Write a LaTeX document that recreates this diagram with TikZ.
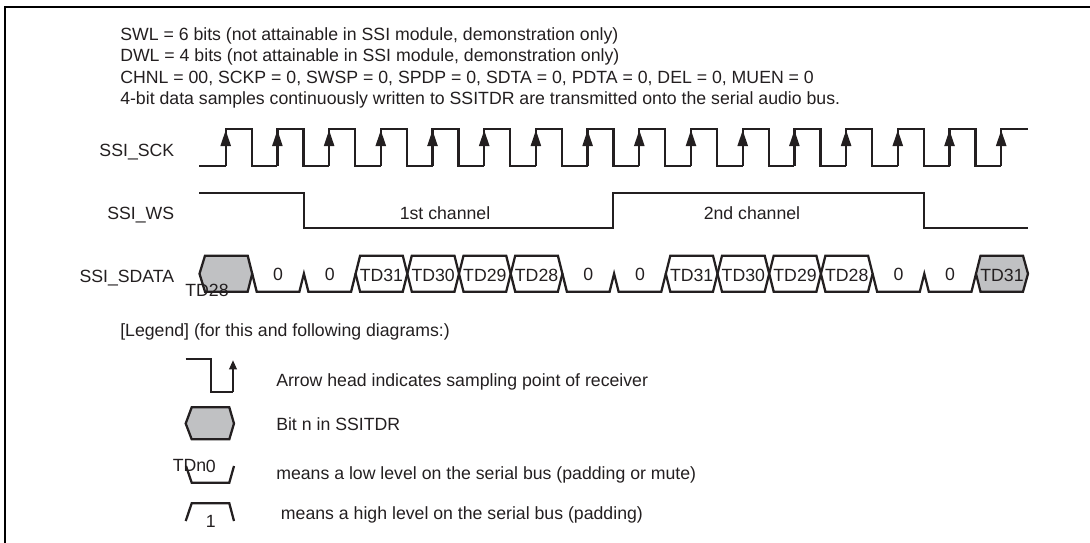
\documentclass[tikz,border=0pt]{standalone}
\usepackage{fontspec}
\setmainfont{Liberation Sans}
\usepackage{xcolor}
\usepackage{tikz}
\usetikzlibrary{arrows.meta, positioning}
\definecolor{mydark}{RGB}{35,31,32}
\definecolor{mygray}{RGB}{192,193,195}
\tikzset{
  txt/.style={font=\fontsize{13.27pt}{16pt}\selectfont, text=mydark, inner sep=0pt, anchor=base},
  lefttxt/.style={txt, anchor=base west},
  sigtxt/.style={txt, anchor=base east},
  sig/.style={line width=1.7pt, color=mydark, line join=miter},
  sigarrow/.style={line width=1.7pt, color=mydark, -{Triangle[length=12pt,width=7.5pt]}},
  legarrow/.style={line width=1.7pt, color=mydark, -{Triangle[length=7pt,width=5.5pt]}},
  frameline/.style={line width=1.7pt, color=black},
  grayhex/.style={sig, fill=mygray}
}
\begin{document}
\begin{tikzpicture}[x=0.75pt, y=-0.75pt]
  \useasboundingbox (0,0) rectangle (1090,543);
  \draw[frameline] (5,543) -- (5,6.8) -- (1090,6.8);
  % header
  \node[lefttxt] (swl)  at (120,40) {SWL = 6 bits (not attainable in SSI module, demonstration only)};
  \node[lefttxt] (dwl)  at (120,61.5) {DWL = 4 bits (not attainable in SSI module, demonstration only)};
  \node[lefttxt] (chnl) at (120,83) {CHNL = 00, SCKP = 0, SWSP = 0, SPDP = 0, SDTA = 0, PDTA = 0, DEL = 0, MUEN = 0};
  \node[lefttxt] (note) at (120,104) {4-bit data samples continuously written to SSITDR are transmitted onto the serial audio bus.};
  % signal names
  \node[sigtxt] (sck)   at (174.5,156.7) {SSI\_SCK};
  \node[sigtxt] (ws)    at (174.5,219.3) {SSI\_WS};
  \node[sigtxt] (sdata) at (174.5,282.3) {SSI\_SDATA};
  % clock
  \draw[sig] (199,165.7) -- (225.7,165.7);
  \foreach \k in {0,...,14} {
    \pgfmathsetmacro{\xr}{225.7+51.7*\k}
    \draw[sig] (\xr,165.7) -- (\xr,129) -- ++(26,0) -- (\xr+26,165.7) -- (\xr+51.7,165.7);
  }
  \draw[sig] (1001.2,165.7) -- (1001.2,129) -- (1028,129);
  \foreach \k in {0,...,15} {
    \pgfmathsetmacro{\xr}{225.7+51.7*\k}
    \draw[sigarrow] (\xr,165.7) -- (\xr,130);
  }
  % word select
  \draw[sig] (199,193) -- (303.7,193) -- (303.7,228) -- (613.3,228) -- (613.3,193)
    -- (924,193) -- (924,228) -- (1028,228);
  \node[txt] (first)  at (445,219.3) {1st channel};
  \node[txt] (second) at (752,219.3) {2nd channel};
  % serial data
  \foreach \k/\lab in {3/TD31,4/TD30,5/TD29,6/TD28,9/TD31,10/TD30,11/TD29,12/TD28} {
    \pgfmathsetmacro{\xb}{200.5+51.7*\k}
    \draw[sig] (\xb,273.7) -- ++(4.5,-18) -- ++(42.7,0) -- ++(4.5,18) -- ++(-4.5,18) -- ++(-42.7,0) -- cycle;
    \node[txt] (d\k) at (\xb+25.85,281) {\lab};
  }
  \foreach \k in {1,7,13} {
    \pgfmathsetmacro{\xb}{200.5+51.7*\k}
    \draw[sig] (\xb,273.7) -- ++(4.5,18) -- ++(42.7,0) -- ++(4.5,-18) -- ++(4.5,18) -- ++(42.7,0) -- ++(4.5,-18);
    \node[txt] (z\k) at (\xb+25.85,280.7) {0};
    \node[txt] (y\k) at (\xb+77.55,280.7) {0};
  }
  \draw[grayhex] (199.5,273.7) -- ++(5.5,-18) -- (247.7,255.7) -- (252.2,273.7) -- (247.7,291.7) -- (205,291.7) -- cycle;
  \node[txt] (td28) at (207,296.7) {TD28};
  \draw[grayhex] (976,273.7) -- ++(4.5,-18) -- (1023,255.7) -- (1028,273.7) -- (1023,291.7) -- (980.5,291.7) -- cycle;
  \node[txt] (td31) at (1002,281) {TD31};
  % legend
  \node[lefttxt] (legend) at (120,336.7) {[Legend] (for this and following diagrams:)};
  \draw[sig] (185.7,359.3) -- (210.7,359.3) -- (210.7,391.7) -- (233,391.7);
  \draw[legarrow] (233,392.4) -- (233,360);
  \node[lefttxt] (larrow) at (276,386) {Arrow head indicates sampling point of receiver};
  \draw[grayhex] (185.7,423.5) -- (191.7,407.3) -- (229.3,407.3) -- (234,423.5) -- (229.3,439.3) -- (191.7,439.3) -- cycle;
  \node[lefttxt] (lbit) at (276,430.7) {Bit n in SSITDR};
  \draw[sig] (186,466) -- (191.7,482.7) -- (229.3,482.7) -- (234,466);
  \node[txt] (tdn) at (189.5,471.7) {TDn};
  \node[txt] (lzero) at (210.7,472) {0};
  \node[lefttxt] (llow) at (276,479.3) {means a low level on the serial bus (padding or mute)};
  \draw[sig] (185.7,521) -- (191.7,503.3) -- (229.3,503.3) -- (234,521);
  \node[txt] (lone) at (210.7,527.3) {1};
  \node[lefttxt] (lhigh) at (280.7,519.3) {means a high level on the serial bus (padding)};
\end{tikzpicture}
\end{document}
